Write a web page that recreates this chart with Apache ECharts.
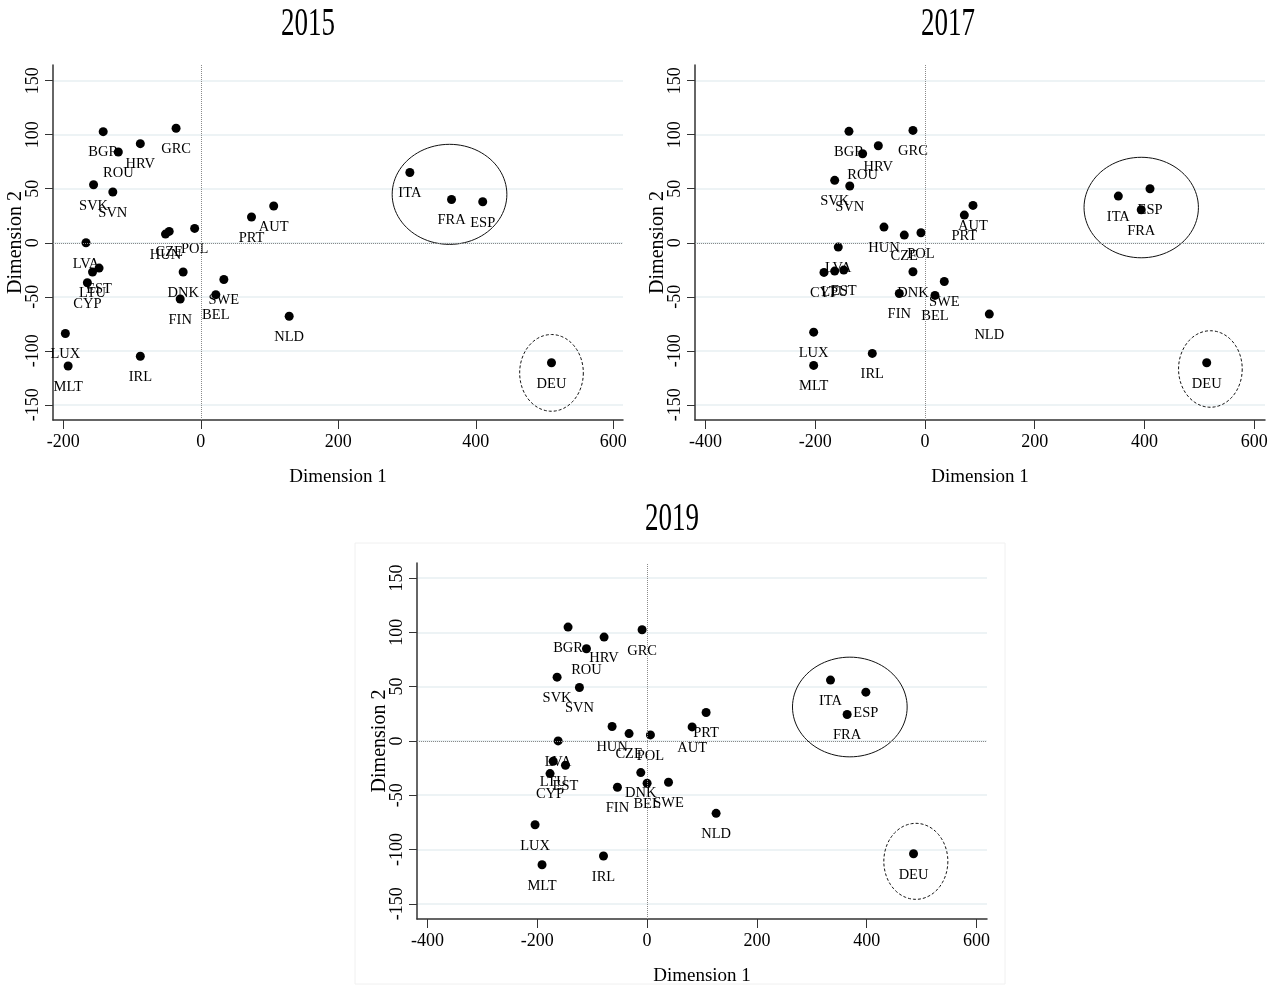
<!DOCTYPE html>
<html>
<head>
<meta charset="UTF-8">
<title>Dimension 1 / Dimension 2 - 2015 2017 2019</title>
<script src="https://cdn.jsdelivr.net/npm/echarts@6/dist/echarts.min.js"></script>
<style>
  body { margin: 0; background: #fff; }
  #main { width: 1272px; height: 985px; }
</style>
</head>
<body>
<div id="main"></div>
<script type="text/javascript">
// country codes, same order in every year
var countries = ['BGR', 'ROU', 'HRV', 'GRC', 'SVK', 'SVN', 'LVA', 'LTU', 'EST', 'CYP', 'HUN', 'CZE', 'POL', 'DNK',
  'FIN', 'BEL', 'SWE', 'PRT', 'AUT', 'NLD', 'LUX', 'MLT', 'IRL', 'ITA', 'FRA', 'ESP', 'DEU'];

var dim1_2015 = [-142, -120, -88, -36, -156, -128, -167, -157.5, -148, -165, -51.4, -46, -9, -25.7,
  -30, 21.8, 33.5, 73.7, 106, 128.5, -197, -193, -88, 304, 364.6, 410, 510];
var dim2_2015 = [102.8, 84, 91.7, 106, 53.7, 47, 0, -27, -23.4, -37, 8, 10.5, 13.3, -27,
  -52, -48, -34, 23.8, 34, -68, -84, -114, -105, 65, 40, 38, -111];

var dim1_2017 = [-138.5, -113.6, -85, -21.9, -164.5, -137, -158, -164.5, -148, -184, -74.7, -37.7, -7.3, -21.9,
  -46.8, 18.2, 35.2, 71.7, 87.5, 117.2, -202.8, -202.8, -96, 352.3, 394, 410, 513.3];
var dim2_2017 = [103.1, 82.4, 89.8, 104, 57.8, 52.5, -4, -26.2, -25.3, -27.4, 14.5, 7.1, 9.3, -26.8,
  -46.9, -48.7, -35.8, 25.6, 34.6, -66, -82.7, -113.5, -102.4, 43.2, 30.6, 50, -111];

var dim1_2019 = [-143.9, -110.4, -78.3, -9.1, -163.9, -123.2, -162, -171, -148.6, -176.7, -63.7, -32.8, 6.1, -11.5,
  -54, 0, 39, 107.5, 82, 125.7, -204, -191.3, -79.4, 334, 364.3, 398.4, 485.2];
var dim2_2019 = [104.8, 84.8, 95.6, 102.3, 58.7, 49.2, 0, -18.7, -22.4, -30.1, 13.2, 6.7, 5.5, -29.2,
  -42.7, -39, -38.1, 26.1, 12.9, -66.7, -77.2, -114, -106, 56, 24.3, 44.9, -103.9];

// ellipses drawn round the groups: [centre x, centre y, radius x, radius y, dashed]
var rings_2015 = [[361.7, 44.8, 83.4, 46.3, 0], [510, -120.4, 46.3, 35.5, 1]];
var rings_2017 = [[394, 32.6, 104.2, 46.5, 0], [520, -116.8, 58, 35.4, 1]];
var rings_2019 = [[369.2, 31.2, 104.4, 45.9, 0], [489.4, -110.9, 58.3, 35, 1]];

var ticks_2015 = [-200, 0, 200, 400, 600];
var ticks_wide = [-400, -200, 0, 200, 400, 600];
var yTicks = [-150, -100, -50, 0, 50, 100, 150];

var serif = 'Liberation Serif';

var panels = [
  { year: '2015', x1: dim1_2015, x2: dim2_2015, rings: rings_2015, xTicks: ticks_2015,
    left: 53, top: 65, width: 570, height: 355, xmin: -215, xmax: 614, ymin: -164, ymax: 164.5, tx: 308, ty: 25 },
  { year: '2017', x1: dim1_2017, x2: dim2_2017, rings: rings_2017, xTicks: ticks_wide,
    left: 695, top: 65, width: 570, height: 355, xmin: -419, xmax: 619.5, ymin: -164, ymax: 164.5, tx: 948, ty: 25 },
  { year: '2019', x1: dim1_2019, x2: dim2_2019, rings: rings_2019, xTicks: ticks_wide,
    left: 417, top: 563, width: 570, height: 356, xmin: -419, xmax: 619, ymin: -164, ymax: 163.8, tx: 672, ty: 520 }
];

var grids = [], xAxes = [], yAxes = [], series = [];
var graphics = [
  // faint frame round the lower panel
  { type: 'rect', shape: { x: 355, y: 543, width: 650, height: 441 }, style: { fill: null, stroke: '#f0f0f0', lineWidth: 1 }, z: -1 }
];

panels.forEach(function (p, i) {
  grids.push({ left: p.left, top: p.top, width: p.width, height: p.height, containLabel: false, outerBoundsMode: 'none' });

  xAxes.push({
    type: 'value', gridIndex: i, min: p.xmin, max: p.xmax,
    name: 'Dimension 1', nameLocation: 'middle', nameGap: 48, nameMoveOverlap: false,
    nameTextStyle: { fontFamily: serif, fontSize: 19, color: '#000' },
    axisLine: { onZero: false, lineStyle: { color: '#333', width: 1.5 } },
    axisTick: { customValues: p.xTicks, length: 9, lineStyle: { color: '#333' } },
    axisLabel: { customValues: p.xTicks, margin: 13, fontFamily: serif, fontSize: 18, color: '#000' },
    splitLine: { show: false }
  });

  yAxes.push({
    type: 'value', gridIndex: i, min: p.ymin, max: p.ymax,
    name: 'Dimension 2', nameLocation: 'middle', nameGap: 27, nameRotate: 90, nameMoveOverlap: false,
    nameTextStyle: { fontFamily: serif, fontSize: 20, color: '#000' },
    axisLine: { show: true, onZero: false, lineStyle: { color: '#333', width: 1.5 } },
    axisTick: { show: true, customValues: yTicks, length: 8, lineStyle: { color: '#333' } },
    axisLabel: { customValues: yTicks, rotate: 90, margin: 11, fontFamily: serif, fontSize: 18, color: '#000' },
    splitLine: { show: true, lineStyle: { color: '#e7eff2', width: 1.5 } }
  });

  var pts = countries.map(function (c, k) {
    return { name: c, value: [p.x1[k], p.x2[k]] };
  });

  series.push({
    type: 'scatter', xAxisIndex: i, yAxisIndex: i,
    symbol: 'circle', symbolSize: 9,
    itemStyle: { color: '#000', opacity: 1 },
    label: {
      show: true, position: 'bottom', distance: 9,
      formatter: '{b}', fontFamily: serif, fontSize: 14.5, color: '#000'
    },
    labelLayout: { hideOverlap: false },
    data: pts,
    markLine: {
      silent: true, symbol: 'none', label: { show: false },
      lineStyle: { color: '#8a8a8a', type: 'dotted', width: 1 },
      data: [{ xAxis: 0 }, { yAxis: 0 }]
    },
    z: 3
  });

  // ellipses round ITA/FRA/ESP and DEU
  series.push({
    type: 'custom', xAxisIndex: i, yAxisIndex: i, silent: true, clip: false,
    data: p.rings,
    renderItem: function (params, api) {
      var c = api.coord([api.value(0), api.value(1)]);
      var s = api.size([api.value(2), api.value(3)]);
      var path = [];
      for (var a = 0; a <= 96; a++) {
        var t = a / 96 * Math.PI * 2;
        path.push([c[0] + s[0] * Math.cos(t), c[1] + s[1] * Math.sin(t)]);
      }
      return {
        type: 'polyline',
        shape: { points: path },
        style: { fill: null, stroke: '#111', lineWidth: 1, lineDash: api.value(4) ? [3, 2] : null }
      };
    },
    z: 2
  });

  graphics.push({
    type: 'text', x: p.tx, y: p.ty, scaleY: 1.45,
    style: { text: p.year, font: '27px "Liberation Serif"', fill: '#000', textAlign: 'center', textVerticalAlign: 'middle' }
  });
});

var myChart = echarts.init(document.getElementById('main'));

var option = {
  backgroundColor: '#fff',
  animation: false,
  grid: grids,
  xAxis: xAxes,
  yAxis: yAxes,
  graphic: graphics,
  series: series
};

myChart.setOption(option);
</script>
</body>
</html>
